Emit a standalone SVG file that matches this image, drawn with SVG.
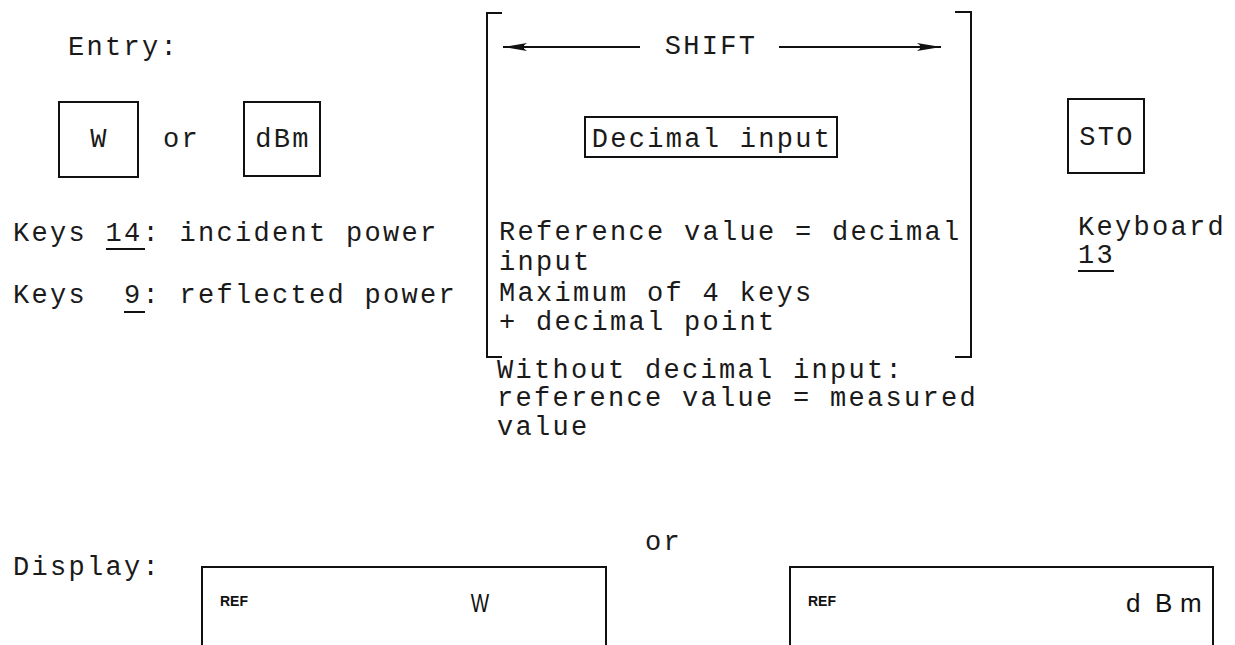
<svg xmlns="http://www.w3.org/2000/svg" width="1235" height="645" viewBox="0 0 1235 645">
<style>
.t{font-family:"Liberation Mono","DejaVu Sans Mono",monospace;font-size:27px;letter-spacing:2.3px;fill:#1a1a1a}
.b{fill:none;stroke:#111;stroke-width:2}
.ref{font-family:"Liberation Sans",Arial,sans-serif;font-size:14px;font-weight:bold;fill:#111}
.unit{font-family:"Liberation Sans",Arial,sans-serif;font-size:26px;fill:#111}
</style>
<defs>
<marker id="ah" viewBox="0 0 24 10" refX="24" refY="5" markerWidth="24" markerHeight="10" markerUnits="userSpaceOnUse" orient="auto-start-reverse">
<path d="M0,1 Q7,5 0,9 L24,5 Z" fill="#111"/>
</marker>
</defs>
<rect width="1235" height="645" fill="#fff"/>
<g id="entry-label"><text class="t" x="68" y="55">Entry:</text></g>
<g id="key-w"><rect class="b" x="59" y="102" width="79" height="75"/><text class="t" x="99.5" y="147" text-anchor="middle">W</text></g>
<g id="or-top"><text class="t" x="163" y="147">or</text></g>
<g id="key-dbm"><rect class="b" x="244" y="102" width="76" height="74"/><text class="t" x="283" y="147" text-anchor="middle">dBm</text></g>
<g id="keys-text">
<text class="t" x="13" y="241">Keys 14: incident power</text>
<line class="b" x1="106" y1="249" x2="145" y2="249"/>
<text class="t" x="13" y="303" xml:space="preserve">Keys  9: reflected power</text>
<line class="b" x1="124" y1="312" x2="145" y2="312"/>
</g>
<g id="shift-bracket">
<path class="b" d="M502,13 H487 V357 H502"/>
<path class="b" d="M955,12 H971 V357 H955"/>
<text class="t" x="711" y="54" text-anchor="middle">SHIFT</text>
<text class="t" x="499" y="240">Reference value = decimal</text>
<text class="t" x="499" y="270">input</text>
<text class="t" x="499" y="301">Maximum of 4 keys</text>
<text class="t" x="499" y="330">+ decimal point</text>
</g>
<g id="decimal-input"><rect class="b" x="585" y="117" width="252" height="40"/><text class="t" x="712" y="147" text-anchor="middle">Decimal input</text></g>
<g id="without-note">
<text class="t" x="497" y="378">Without decimal input:</text>
<text class="t" x="497" y="406">reference value = measured</text>
<text class="t" x="497" y="435">value</text>
</g>
<g id="key-sto"><rect class="b" x="1068" y="99" width="76" height="74"/><text class="t" x="1107" y="145" text-anchor="middle">STO</text></g>
<g id="keyboard-label">
<text class="t" x="1078" y="235">Keyboard</text>
<text class="t" x="1078" y="263">13</text>
<line class="b" x1="1078" y1="271" x2="1114" y2="271"/>
</g>
<g id="connectors">
<line class="b" x1="640" y1="47" x2="503" y2="47" marker-end="url(#ah)"/>
<line class="b" x1="779" y1="47" x2="941" y2="47" marker-end="url(#ah)"/>
</g>
<g id="or-bottom"><text class="t" x="645" y="550">or</text></g>
<g id="display-label"><text class="t" x="13" y="575">Display:</text></g>
<g id="display-w">
<path class="b" d="M202,645 V567 H606 V645"/>
<text class="ref" x="220" y="606">REF</text>
<text class="unit" transform="translate(480,612) scale(0.75,1)" text-anchor="middle">W</text>
</g>
<g id="display-dbm">
<path class="b" d="M790,645 V567 H1213 V645"/>
<text class="ref" x="808" y="606">REF</text>
<text class="unit" y="612"><tspan x="1126">d</tspan><tspan x="1155">B</tspan><tspan x="1180">m</tspan></text>
</g>
</svg>
